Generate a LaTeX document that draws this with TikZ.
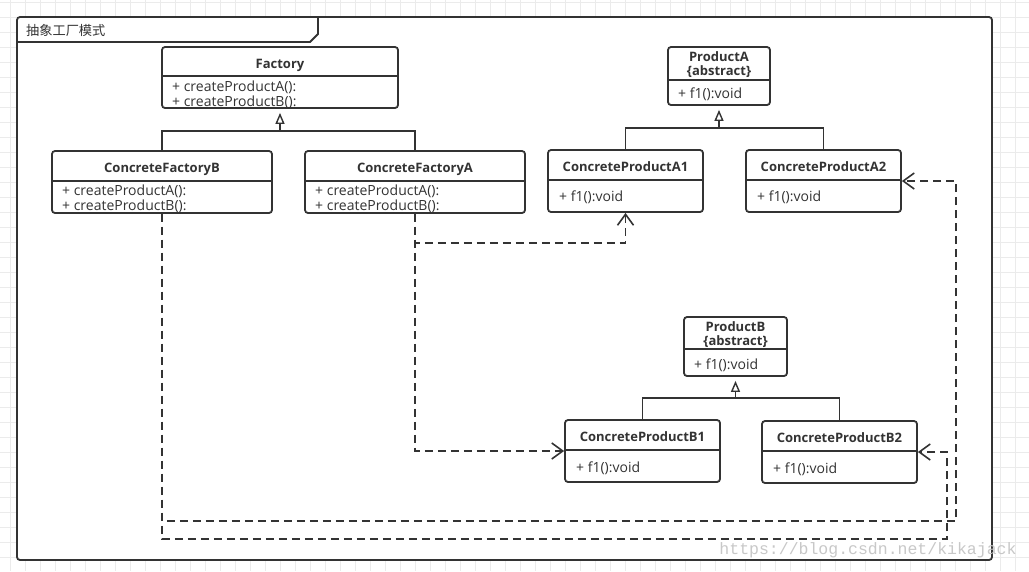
\documentclass[tikz,border=0pt]{standalone}
\usepackage{fontspec}
\setmainfont{Open Sans}
\newfontfamily\cjk{Noto Sans CJK SC}
\newfontfamily\wmfont{Liberation Mono}
\usetikzlibrary{arrows.meta,calc}
\definecolor{ink}{HTML}{333333}
\definecolor{gridc}{HTML}{EBEBEB}
\definecolor{wm}{HTML}{C8C8C8}
\begin{document}
\begin{tikzpicture}[x=1pt,y=-1pt,
  classbox/.style={draw=ink,line width=1.8pt,rounded corners=3pt,fill=white,inner sep=0pt},
  sepline/.style={draw=ink,line width=1.4pt},
  ctitle/.style={text=ink,font=\fontsize{13}{15}\selectfont\bfseries,inner sep=0pt,anchor=base},
  cmember/.style={text=ink,font=\fontsize{14}{16}\selectfont,inner sep=0pt,anchor=base west},
  inh/.style={draw=ink,line width=1.6pt,-{Triangle[open,length=11pt,width=9pt,line width=1.4pt]},shorten >=4pt},
  inhline/.style={draw=ink,line width=1.6pt},
  dep/.style={draw=ink,line width=1.8pt,dash pattern=on 8pt off 5pt,-{Straight Barb[length=11pt,width=16pt,line width=1.6pt]}},
  gridline/.style={draw=gridc,line width=0.9pt}
]
\useasboundingbox (0,0) rectangle (1029,571);
\fill[white] (0,0) rectangle (1029,571);
\foreach \x in {10,25,...,1025} \draw[gridline] (\x,0) -- (\x,571);
\foreach \y in {2,17,...,570} \draw[gridline] (0,\y) -- (1029,\y);

% frame
\node[classbox,minimum width=975pt,minimum height=543pt] (frame) at (504.5,288.5) {};
\draw[ink,line width=1.8pt] (17,42) -- (310,42) -- (318,34) -- (318,17);
\node[anchor=base west,text=ink,inner sep=0pt,font=\cjk\fontsize{13.2}{15}\selectfont] (ftitle) at (26,35) {抽象工厂模式};

% Factory
\node[classbox,minimum width=236pt,minimum height=61pt] (factory) at (280,77.5) {};
\draw[sepline] (162,76) -- (398,76);
\node[ctitle] (factoryT) at (280,68) {Factory};
\node[cmember] (factoryM1) at (172,91) {+ createProductA():};
\node[cmember] (factoryM2) at (172,106) {+ createProductB():};

% ConcreteFactoryB
\node[classbox,minimum width=220pt,minimum height=62pt] (cfb) at (162,182) {};
\draw[sepline] (52,181) -- (272,181);
\node[ctitle] (cfbT) at (162,172) {ConcreteFactoryB};
\node[cmember] (cfbM1) at (62,195) {+ createProductA():};
\node[cmember] (cfbM2) at (62,210) {+ createProductB():};

% ConcreteFactoryA
\node[classbox,minimum width=220pt,minimum height=62pt] (cfa) at (415,182) {};
\draw[sepline] (305,181) -- (525,181);
\node[ctitle] (cfaT) at (415,172) {ConcreteFactoryA};
\node[cmember] (cfaM1) at (315,195) {+ createProductA():};
\node[cmember] (cfaM2) at (315,210) {+ createProductB():};

% ProductA
\node[classbox,minimum width=102pt,minimum height=58pt] (pa) at (719,76) {};
\draw[sepline] (668,80) -- (770,80);
\node[ctitle] (paT) at (719,61) {ProductA};
\node[ctitle] (paS) at (719,75.5) {\{abstract\}};
\node[cmember] (paM) at (678,98) {+ f1():void};

% ConcreteProductA1
\node[classbox,minimum width=155pt,minimum height=62pt] (cpa1) at (625.5,181) {};
\draw[sepline] (548,180) -- (703,180);
\node[ctitle] (cpa1T) at (625.5,171) {ConcreteProductA1};
\node[cmember] (cpa1M) at (559,201.5) {+ f1():void};

% ConcreteProductA2
\node[classbox,minimum width=155pt,minimum height=62pt] (cpa2) at (823.5,181) {};
\draw[sepline] (746,180) -- (901,180);
\node[ctitle] (cpa2T) at (823.5,171) {ConcreteProductA2};
\node[cmember] (cpa2M) at (757,201.5) {+ f1():void};

% ProductB
\node[classbox,minimum width=103pt,minimum height=59pt] (pb) at (735.5,346.5) {};
\draw[sepline] (684,349) -- (787,349);
\node[ctitle] (pbT) at (735.5,331) {ProductB};
\node[ctitle] (pbS) at (735.5,345.5) {\{abstract\}};
\node[cmember] (pbM) at (694,369) {+ f1():void};

% ConcreteProductB1
\node[classbox,minimum width=155pt,minimum height=62pt] (cpb1) at (642.5,451) {};
\draw[sepline] (565,450) -- (720,450);
\node[ctitle] (cpb1T) at (642.5,441) {ConcreteProductB1};
\node[cmember] (cpb1M) at (576,472) {+ f1():void};

% ConcreteProductB2
\node[classbox,minimum width=155pt,minimum height=62pt] (cpb2) at (839.5,452) {};
\draw[sepline] (762,451) -- (917,451);
\node[ctitle] (cpb2T) at (839.5,442) {ConcreteProductB2};
\node[cmember] (cpb2M) at (773,473) {+ f1():void};

% inheritance
\coordinate (jf) at (280,131);
\coordinate (ja) at (719,128);
\coordinate (jb) at (735.5,398);
\draw[inh] (cfb.north) |- (jf) -- (factory.south);
\draw[inhline] (cfa.north) |- (jf);
\draw[inh] (cpa1.north) |- (ja) -- (pa.south);
\draw[inhline] (cpa2.north) |- (ja);
\draw[inh] (cpb1.north) |- (jb) -- (pb.south);
\draw[inhline] (cpb2.north) |- (jb);

% dependencies
\draw[dep] (cfa.south) -- (415,243) -| (cpa1.south);
\draw[dep] (cfa.south) |- (cpb1.west);
\draw[dep] (cfb.south) -- (162,539) -- (947,539) |- (cpb2.east);
\draw[dep] (cfb.south) -- (162,521) -- (956,521) |- (cpa2.east);

% watermark
\node[text=wm,inner sep=0pt,font=\wmfont\fontsize{16.5}{18}\selectfont] (wmark) at (868,550) {https://blog.csdn.net/kikajack};
\end{tikzpicture}
\end{document}
